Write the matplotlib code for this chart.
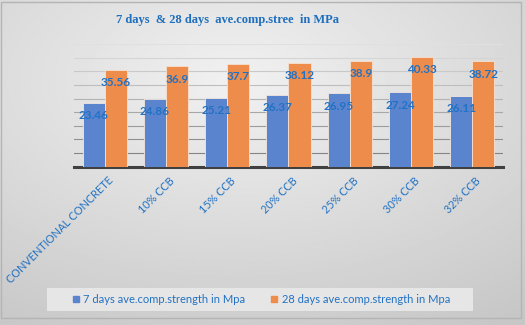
import numpy as np
import matplotlib.pyplot as plt
from matplotlib.patches import Patch, Rectangle

mixes = ["CONVENTIONAL CONCRETE", "10% CCB", "15% CCB", "20% CCB",
         "25% CCB", "30% CCB", "32% CCB"]
strength_7d = [23.46, 24.86, 25.21, 26.37, 26.95, 27.24, 26.11]
strength_28d = [35.56, 36.9, 37.7, 38.12, 38.9, 40.33, 38.72]

BLUE = "#5b84cf"
ORANGE = "#ee8c4b"
TEXT_BLUE = "#2272c3"

plt.rcParams["font.family"] = ["Lato", "DejaVu Sans"]

fig = plt.figure(figsize=(5.25, 3.25), dpi=100)
fig.patch.set_facecolor("white")

# soft radial gray background behind the whole chart
bg = fig.add_axes([0, 0, 1, 1], zorder=-10)
yy, xx = np.mgrid[0:1:200j, 0:1:320j]
r = np.sqrt(((xx - 0.45) / 0.9) ** 2 + ((yy - 0.25) / 0.85) ** 2)
shade = np.clip(0.945 - 0.16 * r, 0.78, 0.95)
bg.imshow(shade, cmap="gray", vmin=0, vmax=1, aspect="auto",
          extent=[0, 1, 1, 0])
bg.set_xlim(0, 1)
bg.set_ylim(1, 0)
bg.axis("off")
bg.add_patch(Rectangle((0.002, 0.006), 0.99, 0.972, fill=False,
                       edgecolor="#b4b4b4", linewidth=1.0))

ax = fig.add_axes([0.141, 0.487, 0.817, 0.3775])
ax.patch.set_alpha(0)

x = np.arange(len(mixes))
w = 0.36
b1 = ax.bar(x - w / 2, strength_7d, w, color=BLUE, edgecolor="#f3e6dc",
            linewidth=0.6, zorder=3)
b2 = ax.bar(x + w / 2, strength_28d, w, color=ORANGE, edgecolor="#f6e2d2",
            linewidth=0.6, zorder=3)

for bars, vals in ((b1, strength_7d), (b2, strength_28d)):
    for rect, v in zip(bars, vals):
        ax.annotate(f"{v:g}", (rect.get_x() + rect.get_width() / 2, v),
                    xytext=(0, -13), textcoords="offset pixels",
                    ha="center", va="center", fontsize=8.5,
                    fontweight="bold", color=TEXT_BLUE, zorder=5)

ax.set_xlim(-0.5, len(mixes) - 0.5)
ax.set_ylim(0, 45)

# gridlines fade out towards the top
for i, lvl in enumerate(range(5, 50, 5)):
    g = 0.52 + 0.045 * i
    ax.axhline(lvl, color=(g, g, g), linewidth=0.8, zorder=1)

for side in ("top", "right", "left"):
    ax.spines[side].set_visible(False)
ax.spines["bottom"].set_color("#404040")
ax.spines["bottom"].set_linewidth(2.2)
ax.set_yticks([])
ax.tick_params(axis="x", length=0, pad=6)
ax.set_xticks(x + 0.05)
ax.set_xticklabels(mixes, rotation=45, ha="right", va="top",
                   rotation_mode="anchor", fontsize=7.8, color=TEXT_BLUE)

fig.text(0.434, 0.938, "7 days  & 28 days  ave.comp.stree  in MPa",
         ha="center", va="center", fontsize=9, fontweight="bold",
         family="Liberation Serif", color="#1f6fbf")

# legend strip
fig.patches.append(Rectangle((47 / 525, 1 - 311 / 325), 426 / 525, 23 / 325,
                             transform=fig.transFigure, facecolor="#e6e6e6",
                             edgecolor="none", zorder=1))
handles = [Patch(color=BLUE), Patch(color=ORANGE)]
fig.legend(handles, ["7 days ave.comp.strength in Mpa",
                     "28 days ave.comp.strength in Mpa"],
           loc="center", bbox_to_anchor=(0.498, 1 - 299.5 / 325), ncol=2,
           frameon=False, fontsize=8, handlelength=0.55, handleheight=0.55,
           handletextpad=0.4, columnspacing=2.3, labelcolor=TEXT_BLUE)

fig.savefig("out.png", dpi=100)
